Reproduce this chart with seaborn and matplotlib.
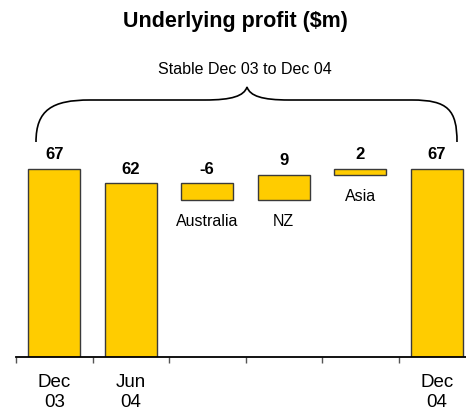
import numpy as np
import matplotlib.pyplot as plt
import matplotlib.patches as mpatches
from matplotlib.path import Path
import pandas as pd
import seaborn as sns

# chart data
categories = ["Dec 03", "Jun 04", "Australia", "NZ", "Asia", "Dec 04"]
values = [67, 62, -6, 9, 2, 67]
is_total = [True, True, False, False, False, True]
axis_labels = ["Dec\n03", "Jun\n04", "", "", "", "Dec\n04"]
value_labels = ["67", "62", "-6", "9", "2", "67"]

# waterfall: bottoms and heights of each bar
bottoms, heights = [], []
level = 0
for v, tot in zip(values, is_total):
    if tot:
        bottoms.append(0)
        heights.append(v)
        level = v
    else:
        new = level + v
        bottoms.append(min(level, new))
        heights.append(abs(v))
        level = new

df = pd.DataFrame({"category": categories, "height": heights, "bottom": bottoms})

W, H = 466, 413
px_per_unit = 2.806

sns.set_style("white")
plt.rcParams['font.family'] = ['Liberation Sans', 'DejaVu Sans']
plt.rcParams['text.color'] = 'black'
plt.rcParams['xtick.color'] = 'black'

fig = plt.figure(figsize=(W / 100, H / 100), dpi=100)
ax = fig.add_axes([16 / W, (H - 357) / H, 459 / W, 257 / H])

sns.barplot(data=df, x="category", y="height", bottom=df["bottom"].values,
            color="#FFCC00", edgecolor="#3a3a3a", linewidth=1, width=0.68,
            saturation=1, errorbar=None, ax=ax)

ax.set_xlim(-0.5, 5.5)
ax.set_ylim(0, 257 / px_per_unit)
ax.set_yticks([])
ax.set_xlabel("")
ax.set_ylabel("")
for s in ["left", "top", "right"]:
    ax.spines[s].set_visible(False)
ax.spines["bottom"].set_color("black")
ax.spines["bottom"].set_linewidth(1.3)

ax.set_xticks(range(len(categories)), axis_labels, fontsize=13.5)
ax.set_xticks(np.arange(-0.5, len(categories), 1), minor=True)
ax.tick_params(axis="x", which="major", length=0, pad=12.5, bottom=True,
               labelcolor="black")
ax.tick_params(axis="x", which="minor", length=4, width=1, color="#555555",
               direction="out", bottom=True)

# value labels above bars, region names under the floating bars
for i in range(len(categories)):
    top = bottoms[i] + heights[i]
    ax.annotate(value_labels[i], (i, top), xytext=(0, 14), textcoords="offset pixels",
                ha="center", va="center", fontsize=12, fontweight="bold")
    if not is_total[i]:
        ax.annotate(categories[i], (i, bottoms[i]), xytext=(0, -22), textcoords="offset pixels",
                    ha="center", va="center", fontsize=11.5)

# curly brace over the chart
def fp(x, y):
    return (x / W, 1 - y / H)

verts = [fp(36, 142), fp(36, 110), fp(52, 100), fp(90, 100),
         fp(205, 100),
         fp(232, 100), fp(244, 96), fp(247, 87),
         fp(250, 96), fp(262, 100), fp(289, 100),
         fp(412, 100),
         fp(448, 100), fp(457, 110), fp(457, 142)]
codes = [Path.MOVETO, Path.CURVE4, Path.CURVE4, Path.CURVE4,
         Path.LINETO,
         Path.CURVE4, Path.CURVE4, Path.CURVE4,
         Path.CURVE4, Path.CURVE4, Path.CURVE4,
         Path.LINETO,
         Path.CURVE4, Path.CURVE4, Path.CURVE4]
brace = mpatches.PathPatch(Path(verts, codes), facecolor="none", edgecolor="black",
                           linewidth=1.2, transform=fig.transFigure)
fig.patches.append(brace)

fig.text(235 / W, 1 - 22 / H, "Underlying profit ($m)", ha="center", va="center",
         fontsize=15.5, fontweight="bold")
fig.text(245 / W, 1 - 69 / H, "Stable Dec 03 to Dec 04", ha="center", va="center",
         fontsize=11.5)

fig.savefig("out.png", dpi=100)
